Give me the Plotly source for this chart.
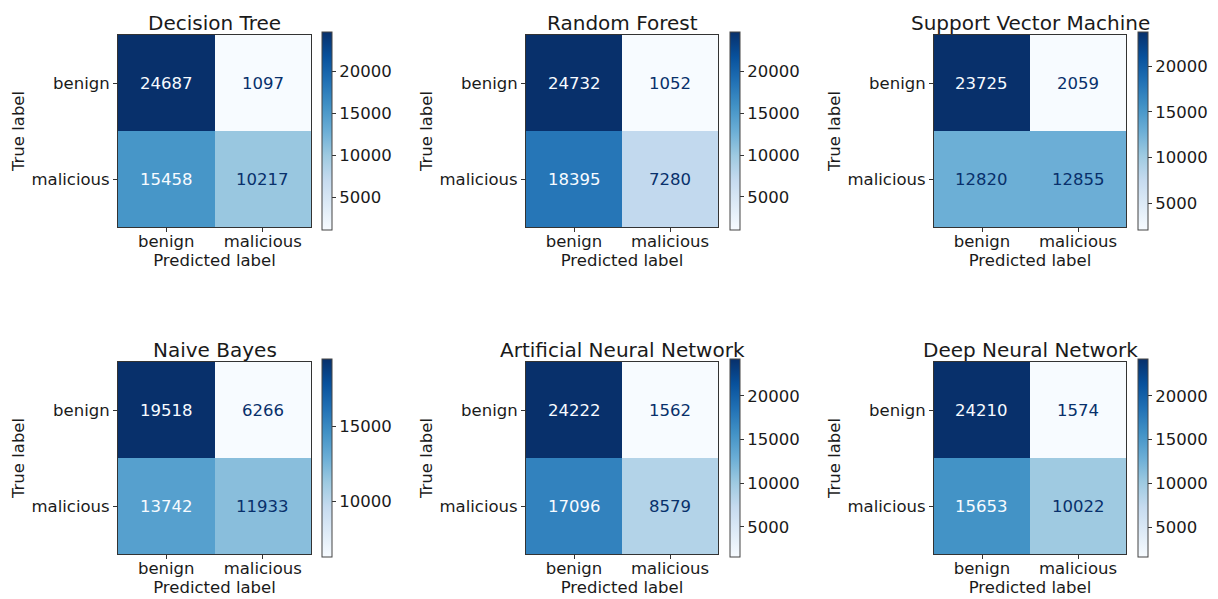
import plotly.graph_objects as go

W, H = 1218, 599

labels = ["benign", "malicious"]
titles = ["Decision Tree", "Random Forest", "Support Vector Machine",
          "Naive Bayes", "Artificial Neural Network", "Deep Neural Network"]
dt = [[24687, 1097], [15458, 10217]]
rf = [[24732, 1052], [18395, 7280]]
svm = [[23725, 2059], [12820, 12855]]
nb = [[19518, 6266], [13742, 11933]]
ann = [[24222, 1562], [17096, 8579]]
dnn = [[24210, 1574], [15653, 10022]]
matrices = [dt, rf, svm, nb, ann, dnn]
cbar_ticks = [5000, 10000, 15000, 20000]

blues = ['rgb(247,251,255)', 'rgb(222,235,247)', 'rgb(198,219,239)', 'rgb(158,202,225)',
         'rgb(107,174,214)', 'rgb(66,146,198)', 'rgb(33,113,181)', 'rgb(8,81,156)', 'rgb(8,48,107)']
colorscale = [[i / 8, c] for i, c in enumerate(blues)]
DARK = 'rgb(8,48,107)'
LIGHT = 'rgb(247,251,255)'
FONT = "DejaVu Sans"
TXT = '#1a1a1a'
FS = 16.5

# pixel layout (left, right) for columns, (top, bottom) for rows
cols_px = [(118, 311), (526, 718), (934, 1126)]
rows_px = [(35, 227), (362, 554)]
cbar_px = [322, 730, 1138]

def fx(px):
    return px / W

def fy(py):
    return 1 - py / H

fig = go.Figure()
annotations = []
for k, (m, title) in enumerate(zip(matrices, titles)):
    r, c = divmod(k, 3)
    idx = k + 1
    xa = 'x' if idx == 1 else f'x{idx}'
    ya = 'y' if idx == 1 else f'y{idx}'
    zmin = min(min(row) for row in m)
    zmax = max(max(row) for row in m)
    top, bot = rows_px[r]
    fig.add_trace(go.Heatmap(
        z=m, x=labels, y=labels, xaxis=xa, yaxis=ya,
        colorscale=colorscale, zmin=zmin, zmax=zmax,
        hoverinfo='skip',
        colorbar=dict(
            x=fx(cbar_px[c]), xanchor='left', xpad=0, ypad=0,
            y=fy((top + bot) / 2), yanchor='middle',
            len=(bot - top + 6) / H, lenmode='fraction',
            thickness=10, thicknessmode='pixels',
            outlinewidth=1, outlinecolor='#444',
            tickvals=cbar_ticks, tickformat='d',
            ticks='outside', ticklen=4, tickcolor='#333',
            tickfont=dict(family=FONT, size=FS, color=TXT),
        ),
    ))
    thresh = (zmax + zmin) / 2
    for i, yl in enumerate(labels):
        for j, xl in enumerate(labels):
            v = m[i][j]
            annotations.append(dict(
                x=xl, y=yl, xref=xa, yref=ya, text=str(v), showarrow=False,
                font=dict(family=FONT, size=FS, color=DARK if v < thresh else LIGHT)))
    l, rr = cols_px[c]
    annotations.append(dict(
        x=fx((l + rr) / 2), y=fy(top), xref='paper', yref='paper', text=title,
        showarrow=False, xanchor='center', yanchor='bottom', yshift=-2,
        font=dict(family=FONT, size=20, color=TXT)))
    axcommon = dict(showline=True, mirror=True, linecolor='#333', linewidth=1,
                    ticks='outside', ticklen=4, tickcolor='#333', showgrid=False,
                    zeroline=False, fixedrange=True,
                    tickfont=dict(family=FONT, size=FS, color=TXT))
    xkey = 'xaxis' if idx == 1 else f'xaxis{idx}'
    ykey = 'yaxis' if idx == 1 else f'yaxis{idx}'
    fig.update_layout(**{
        xkey: dict(domain=[fx(l), fx(rr)], anchor=ya, categoryorder='array',
                   categoryarray=labels, ticklabelstandoff=-5,
                   title=dict(text='Predicted label', standoff=0,
                              font=dict(family=FONT, size=FS, color=TXT)),
                   **axcommon),
        ykey: dict(domain=[fy(bot), fy(top)], anchor=xa, autorange='reversed',
                   title=dict(text='True label', standoff=2,
                              font=dict(family=FONT, size=FS, color=TXT)),
                   **axcommon),
    })

fig.update_layout(
    width=W, height=H, margin=dict(l=0, r=0, t=0, b=0),
    paper_bgcolor='white', plot_bgcolor='white',
    annotations=annotations, showlegend=False,
    font=dict(family=FONT, size=FS, color=TXT),
)

fig.write_html("out.html", config={'displayModeBar': False},
               post_script="document.body.style.margin='0';document.body.style.overflow='hidden';")
